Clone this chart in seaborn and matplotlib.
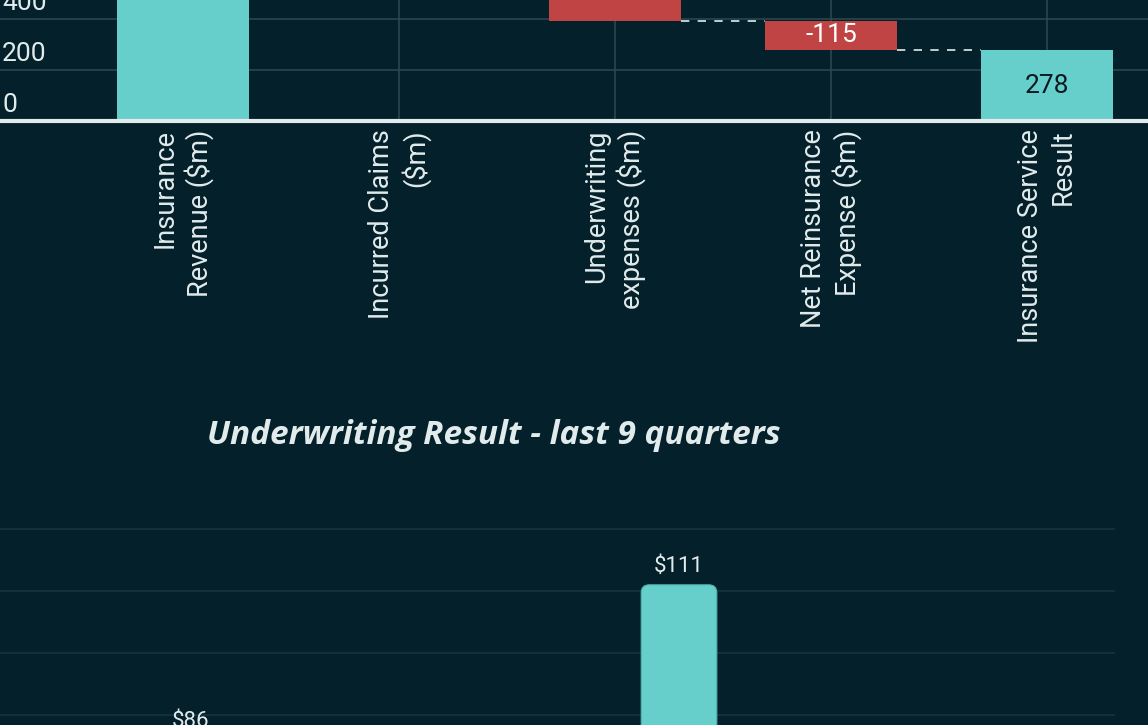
import matplotlib
matplotlib.use("Agg")
import matplotlib.pyplot as plt
import matplotlib.transforms as mtransforms
from matplotlib.patches import FancyBboxPatch
import seaborn as sns
import numpy as np
import pandas as pd

# Waterfall data ($m)
wf_categories = ["Insurance\nRevenue (\\$m)", "Incurred Claims\n(\\$m)", "Underwriting\nexpenses (\\$m)",
                 "Net Reinsurance\nExpense (\\$m)", "Insurance Service\nResult"]
wf_values = [1350, -700, -257, -115, 278]
wf_is_total = [True, False, False, False, True]
wf_yticks = [0, 200, 400]

# Underwriting result, last 9 quarters ($m)
quarters = ["Q4 22", "Q1 23", "Q2 23", "Q3 23", "Q4 23", "Q1 24", "Q2 24", "Q3 24", "Q4 24"]
uw_result = [74, 86, 62, 79, 58, 111, 81, 69, 77]
uw_yticks = [0, 10, 20, 30, 40, 50, 60, 70, 80, 90, 100, 110, 120]

BG = "#03202B"
TEAL = "#66CFCC"
RED = "#C04444"
LIGHT = "#E2EBEC"
GRID_TOP = "#2E4A52"
GRID_BOT = "#15353F"

sns.set_theme(style="dark")
plt.rcParams["font.family"] = ["Roboto", "DejaVu Sans"]

W, H = 1148, 725
fig = plt.figure(figsize=(W / 100, H / 100), dpi=100, facecolor=BG)

# ---- top: waterfall (only its lower part is in view) ----
px_per_unit = 0.255
base_px = 121
top_ylim = base_px / px_per_unit
ax1 = fig.add_axes([0, (H - base_px) / H, 1, base_px / H])
ax1.set_facecolor(BG)

vals = np.array(wf_values)
bottoms, heights, levels = [], [], []
level = 0
for v, tot in zip(vals, wf_is_total):
    if tot:
        bottoms.append(0)
        heights.append(v)
        level = v
    else:
        new = level + v
        bottoms.append(min(level, new))
        heights.append(abs(v))
        level = new
    levels.append(level)
df = pd.DataFrame({"category": wf_categories, "height": heights, "bottom": bottoms, "value": vals})
colors = [TEAL if t else RED for t in wf_is_total]

bar_w = 0.61
sns.barplot(data=df, x="category", y="height", hue="category", palette=colors, width=bar_w,
            saturation=1, legend=False, ax=ax1, zorder=3, linewidth=0, edgecolor="none")
for patch, b in zip(ax1.patches, df["bottom"]):
    patch.set_y(b)

# connectors
for i in range(len(vals) - 1):
    ax1.plot([i + bar_w / 2, i + 1 - bar_w / 2], [levels[i], levels[i]], color=LIGHT, lw=1.2,
             linestyle=(0, (5, 5)), zorder=4)

# value labels (only those that fall inside the visible range)
for i, row in df.iterrows():
    mid = row["bottom"] + row["height"] / 2
    if mid < top_ylim - 20:
        ax1.text(i, mid, f"{row['value']}", ha="center", va="center",
                 fontsize=19, color="#0A1A1F" if wf_is_total[i] else "white", zorder=5)

ax1.set_xlim(-183 / 216, (W - 183) / 216)
ax1.set_ylim(0, top_ylim)
ax1.set_yticks(wf_yticks)
ax1.set_xticks(range(len(wf_categories)))
ax1.set_xticklabels(wf_categories, rotation=90, ha="center", va="top", ma="right",
                    fontsize=19.5, color=LIGHT, linespacing=1.25)
ax1.tick_params(axis="x", length=0, pad=6)
ax1.tick_params(axis="y", length=0, labelleft=False)
ax1.grid(True, color=GRID_TOP, lw=1.1, zorder=0)
ax1.set_axisbelow(True)
for s in ax1.spines.values():
    s.set_visible(False)
ax1.axhline(0, color=LIGHT, lw=3, zorder=6, clip_on=False)
ax1.set_xlabel("")
ax1.set_ylabel("")

ytrans = mtransforms.offset_copy(ax1.get_yaxis_transform(), fig=fig, x=2, y=9, units="dots")
for t in wf_yticks:
    ax1.text(0, t, f"{t}", transform=ytrans, ha="left", va="baseline", fontsize=19, color=LIGHT)

# ---- title of the second chart ----
fig.text(494 / W, 1 - 444 / H, "Underwriting Result - last 9 quarters", ha="center", va="baseline",
         fontsize=24, color=LIGHT, family="Open Sans", fontweight="bold", fontstyle="italic")

# ---- bottom: quarterly bars (extends below the visible frame) ----
uw_px = 6.2
uw_top = 122
top_px = 529 - (uw_top - 120) * uw_px
ax_h = uw_top * uw_px
ax2 = fig.add_axes([0, (H - top_px - ax_h) / H, 1115 / W, ax_h / H])
ax2.set_facecolor(BG)
sns.barplot(x=quarters, y=uw_result, color=TEAL, width=0.62, saturation=1, ax=ax2, zorder=3)
ax2.set_xlim(-0.566, 8.574)
ax2.set_ylim(0, uw_top)
ax2.set_yticks(uw_yticks)
ax2.tick_params(length=0, labelleft=False, labelbottom=False)
ax2.grid(True, axis="y", color=GRID_BOT, lw=1.1, zorder=0)
ax2.grid(False, axis="x")
ax2.set_axisbelow(True)
for s in ax2.spines.values():
    s.set_visible(False)

# rounded bar tops
x_unit = 1115 / (8.574 + 0.566)
radius_px = 8
rs = radius_px / x_unit
aspect = (radius_px / uw_px) / rs
for patch in list(ax2.patches):
    x0, y0 = patch.get_x(), patch.get_y()
    w, h = patch.get_width(), patch.get_height()
    rounded = FancyBboxPatch((x0, y0), w, h, boxstyle=f"round,pad=0,rounding_size={rs}",
                             mutation_aspect=aspect, facecolor=TEAL, edgecolor="#4FB3B0",
                             lw=0.8, zorder=3)
    patch.remove()
    ax2.add_patch(rounded)

lab_trans = mtransforms.offset_copy(ax2.transData, fig=fig, y=8, units="dots")
for i, v in enumerate(uw_result):
    ax2.text(i, v, f"\\${v}", transform=lab_trans, ha="center", va="bottom", fontsize=16, color=LIGHT)

fig.savefig("out.png", dpi=100, facecolor=BG)
